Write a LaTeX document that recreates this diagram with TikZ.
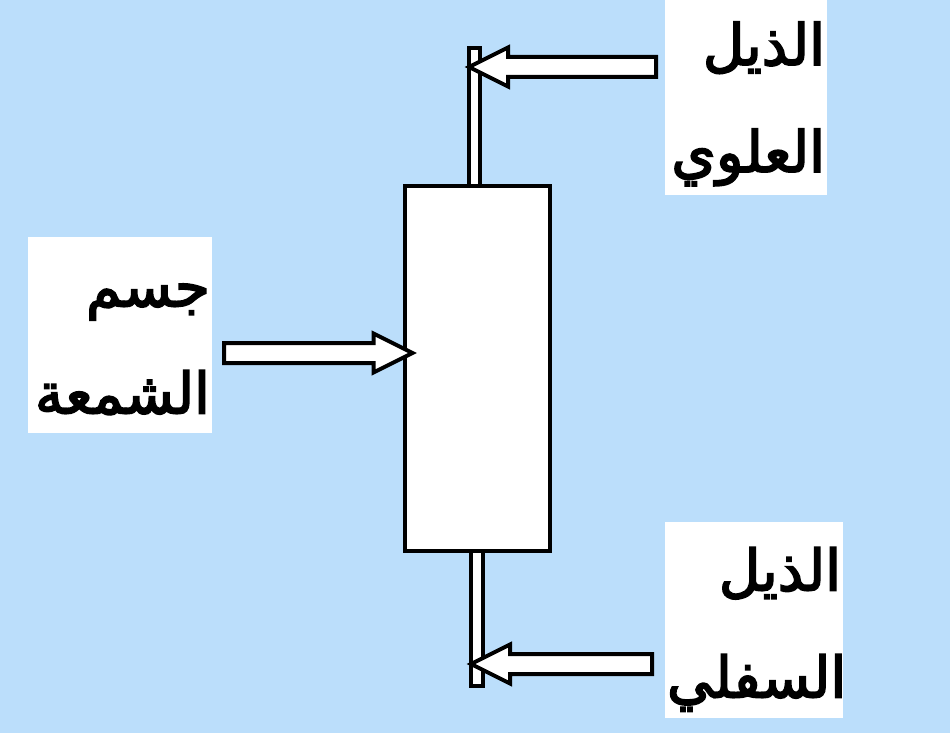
\documentclass[tikz,border=0pt]{standalone}
\usepackage{fontspec}
\usetikzlibrary{calc}
\TeXXeTstate=1
\newfontfamily\arabicfont[Script=Arabic,FakeBold=3]{DejaVu Sans}
\definecolor{skyback}{RGB}{187,222,251}

% block arrow from tail (#1) to tip (#2), horizontal
\newcommand{\blockarr}[2]{%
  \draw [barrow] let \p1=(#1), \p2=(#2), \n1={sign(\x2-\x1)}, \n2={\x2-39*(\n1)} in
    (\x1,\y1+10pt) -- (\n2,\y1+10pt) -- (\n2,\y1+19.5pt) -- (\x2,\y2)
    -- (\n2,\y1-19.5pt) -- (\n2,\y1-10pt) -- (\x1,\y1-10pt) -- cycle;}
% two right-aligned lines of a label, #1 = room above the first baseline
\newcommand{\twolines}[3][69]{\rule{0pt}{#1pt}\beginR#2\endR\\%
  \beginR#3\endR\rule[\dimexpr#1pt-88pt\relax]{0pt}{\dimexpr88pt-#1pt\relax}}

\begin{document}
\begin{tikzpicture}[x=1pt,y=1pt,
    candle/.style={draw=black,fill=white,line width=4pt,inner sep=0pt},
    barrow/.style={draw=black,fill=white,line width=4pt,line join=miter},
    lblbox/.style={fill=white,inner xsep=2pt,inner ysep=0pt,align=right,
      font=\arabicfont\fontsize{57}{107}\selectfont}]
	\fill [skyback] (0,0) rectangle (950,-733);
	\useasboundingbox (0,0) rectangle (950,-733);
	% wicks and body
	\node [candle, minimum width=11pt, minimum height=137.5pt] (upwick) at (474.5,-117) {};
	\node [candle, minimum width=12pt, minimum height=136.5pt] (lowwick) at (477,-618) {};
	\node [candle, minimum width=145pt, minimum height=365pt] (body) at (477,-368) {};
	% arrow ends
	\coordinate (uptail) at (656,-67);
	\coordinate (uptip) at ([xshift=2pt]upwick.west |- uptail);
	\coordinate (bodytail) at (224,-353);
	\coordinate (bodytip) at ([xshift=10pt]body.west |- bodytail);
	\coordinate (lowtail) at (652,-664);
	\coordinate (lowtip) at ([xshift=2pt]lowwick.west |- lowtail);
	\blockarr{uptail}{uptip}
	\blockarr{bodytail}{bodytip}
	\blockarr{lowtail}{lowtip}
	% labels
	\node [lblbox, minimum width=162pt, minimum height=195pt, text width=158pt] (uplbl) at (746,-97.5)
		{\twolines[65]{الذيل}{العلوي}};
	\node [lblbox, minimum width=184pt, minimum height=196pt, text width=180pt] (bodylbl) at (120,-335)
		{\twolines{جسم}{الشمعة}};
	\node [lblbox, minimum width=178pt, minimum height=196pt, text width=174pt] (lowlbl) at (754,-620)
		{\twolines[68]{الذيل}{السفلي}};
\end{tikzpicture}
\end{document}
